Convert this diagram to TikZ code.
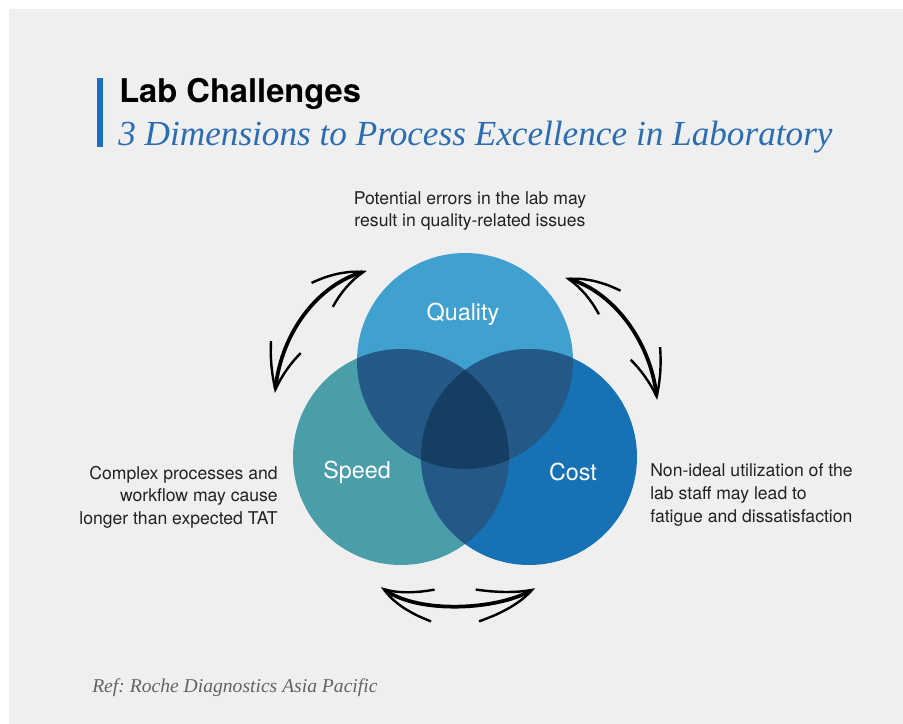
\documentclass[tikz,border=0pt]{standalone}
\usepackage{fontspec}
\newfontfamily\heros{TeX Gyre Heros}
\newfontfamily\timesit{Liberation Serif}[ItalicFont={* Italic}]
\usetikzlibrary{arrows.meta, bending, positioning}
\definecolor{PageGray}{RGB}{239,239,239}
\definecolor{BarBlue}{RGB}{26,111,191}
\definecolor{TitleBlue}{RGB}{43,109,179}
\definecolor{QualityBlue}{RGB}{64,160,208}
\definecolor{SpeedTeal}{RGB}{74,158,170}
\definecolor{CostBlue}{RGB}{22,114,180}
\definecolor{PairBlue}{RGB}{36,88,134}
\definecolor{CoreBlue}{RGB}{20,62,98}
\definecolor{NoteGray}{RGB}{34,34,34}
\definecolor{RefGray}{RGB}{100,100,100}

\tikzset{
  note/.style={font=\heros\fontsize{13.2}{16.9}\selectfont, text=NoteGray, inner sep=0pt},
  dimlabel/.style={font=\heros\fontsize{17.5}{20}\selectfont, text=white, inner sep=0pt},
  barb/.tip={Straight Barb[length=34pt, width=24pt, line width=1.8pt, bend]},
  swing/.style={line width=2.8pt, line cap=round, barb-barb}
}

\begin{document}
\begin{tikzpicture}[x=0.75pt, y=-0.75pt]
  \useasboundingbox (0,0) rectangle (903,724);
  \fill[white] (0,0) rectangle (903,724);
  \fill[PageGray] (9,9) rectangle (903,724);

  % heading
  \fill[BarBlue] (97,78) rectangle (103,147);
  \node[anchor=base west, inner sep=0pt, font=\heros\bfseries\fontsize{24.5}{28}\selectfont] (title) at (119,103) {Lab Challenges};
  \node[anchor=base west, inner sep=0pt, text=TitleBlue, font=\timesit\itshape\fontsize{26.4}{30}\selectfont] (subtitle) at (118,145) {3 Dimensions to Process Excellence in Laboratory};

  % three circles
  \coordinate (q) at (465,361);
  \coordinate (s) at (401,457);
  \coordinate (c) at (529,457);
  \fill[QualityBlue] (q) circle[radius=81pt];
  \fill[SpeedTeal] (s) circle[radius=81pt];
  \fill[CostBlue] (c) circle[radius=81pt];
  \begin{scope}
    \clip (q) circle[radius=81pt];
    \fill[PairBlue] (s) circle[radius=81pt];
    \fill[PairBlue] (c) circle[radius=81pt];
  \end{scope}
  \begin{scope}
    \clip (s) circle[radius=81pt];
    \fill[PairBlue] (c) circle[radius=81pt];
  \end{scope}
  \begin{scope}
    \clip (q) circle[radius=81pt];
    \clip (s) circle[radius=81pt];
    \fill[CoreBlue] (c) circle[radius=81pt];
  \end{scope}

  \node[dimlabel] (quality) at (463,314) {Quality};
  \node[dimlabel] (speed) at (357,472) {Speed};
  \node[dimlabel] (cost) at (573,472) {Cost};

  % notes
  \node[note, align=center] (qnote) at (470,211) {Potential errors in the lab may\\result in quality-related issues};
  \node[note, align=right, anchor=east] (snote) at (278,497) {Complex processes and\\workflow may cause\\longer than expected TAT};
  \node[note, align=left, anchor=west] (cnote) at (650,495) {Non-ideal utilization of the\\lab staff may lead to\\fatigue and dissatisfaction};

  % hand drawn arrows
  \coordinate (sq1) at (275,393);
  \coordinate (sq2) at (367,271);
  \coordinate (qc1) at (565,278);
  \coordinate (qc2) at (657,400);
  \coordinate (sc1) at (381,587);
  \coordinate (sc2) at (535,588);
  \draw[swing] (sq1) .. controls (280,330) and (322,281) .. (sq2);
  \draw[swing] (qc1) .. controls (610,288) and (652,340) .. (qc2);
  \draw[swing] (sc1) .. controls (415,616) and (503,610) .. (sc2);

  \node[anchor=base west, inner sep=0pt, text=RefGray, font=\timesit\itshape\fontsize{14.7}{18}\selectfont] (ref) at (92,692) {\frenchspacing Ref: Roche Diagnostics Asia Pacific};
\end{tikzpicture}
\end{document}
